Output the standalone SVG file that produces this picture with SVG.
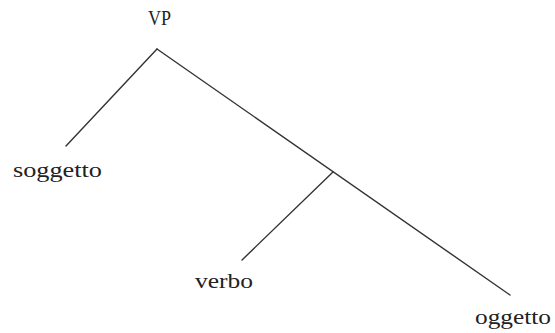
<svg xmlns="http://www.w3.org/2000/svg" width="555" height="333" viewBox="0 0 555 333">
<style>
.lbl{font-family:"Liberation Serif","Times New Roman",serif;font-size:22px;fill:#222}
.edge{stroke:#333;stroke-width:1.4;fill:none;stroke-linecap:round}
</style>
<rect width="555" height="333" fill="#fff"/>
<g id="connectors">
<line class="edge" x1="157" y1="49" x2="66" y2="146"/>
<line class="edge" x1="157" y1="49" x2="510" y2="295"/>
<line class="edge" x1="333" y1="172" x2="242" y2="260"/>
</g>
<g id="node-vp"><text class="lbl" x="148" y="25" textLength="23" lengthAdjust="spacingAndGlyphs">VP</text></g>
<g id="node-soggetto"><text class="lbl" x="13" y="177" textLength="89" lengthAdjust="spacingAndGlyphs">soggetto</text></g>
<g id="node-verbo"><text class="lbl" x="195" y="288" textLength="58" lengthAdjust="spacingAndGlyphs">verbo</text></g>
<g id="node-oggetto"><text class="lbl" x="475" y="324" textLength="76" lengthAdjust="spacingAndGlyphs">oggetto</text></g>
</svg>
